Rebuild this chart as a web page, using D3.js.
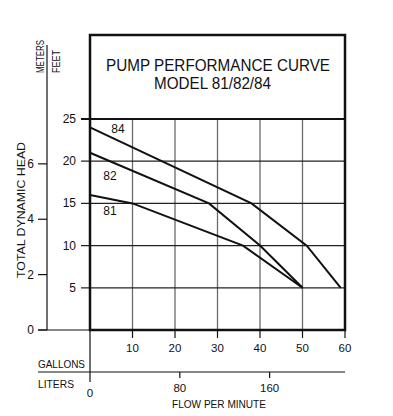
<!DOCTYPE html>
<html>
<head>
<meta charset="utf-8">
<script src="https://cdn.jsdelivr.net/npm/d3@7"></script>
<style>
  body { margin: 0; background: #fff; }
  text { font-family: "Liberation Sans", Arial, sans-serif; fill: #111; }
</style>
</head>
<body>
<div id="chart"></div>
<script>
// values
const models = ["84", "82", "81"];
const curve84 = [[0, 24], [38, 15], [51, 10], [59, 5]];
const curve82 = [[0, 21], [28, 15], [40, 10], [50, 5]];
const curve81 = [[0, 16], [10, 15], [36, 10], [50, 5]];
const labelPos = [[6.6, 23.3], [4.7, 17.8], [4.7, 13.6]];
const feetTicks = [5, 10, 15, 20, 25];
const meterTicks = [0, 2, 4, 6];
const gallonTicks = [10, 20, 30, 40, 50, 60];
const literTicks = [0, 80, 160];
const gridGallons = [10, 20, 30, 40, 50];
const gridFeet = [5, 10, 15, 20];

const width = 393, height = 416;
const margin = { left: 90, right: 48, top: 35, bottom: 86 };
const plotRight = width - margin.right;
const plotBottom = height - margin.bottom;

const x = d3.scaleLinear().domain([0, 60]).range([margin.left, plotRight]);
const yFt = d3.scaleLinear().domain([0, 25]).range([plotBottom, 119]);
const yM = d3.scaleLinear().domain([0, 25 * 0.3048]).range([plotBottom, 119]);
const xL = d3.scaleLinear().domain([0, 60 * 3.7854]).range([margin.left, plotRight]);

const svg = d3.select("#chart").append("svg")
    .attr("width", width)
    .attr("height", height);

// the reference uses a narrow face, so squeeze the longer labels
function label(sel, len) {
    return sel.attr("textLength", len).attr("lengthAdjust", "spacingAndGlyphs");
}

// grid
svg.append("g").selectAll("line").data(gridGallons).join("line")
    .attr("x1", d => x(d)).attr("x2", d => x(d))
    .attr("y1", yFt(25)).attr("y2", plotBottom)
    .attr("stroke", "#6a6a6a").attr("stroke-width", 1.3);

svg.append("g").selectAll("line").data(gridFeet).join("line")
    .attr("x1", x(0) - 9).attr("x2", plotRight)
    .attr("y1", d => yFt(d)).attr("y2", d => yFt(d))
    .attr("stroke", "#222").attr("stroke-width", 1.2);

// feet axis labels
svg.append("g").selectAll("text").data(feetTicks).join("text")
    .attr("x", x(0) - 14).attr("y", d => yFt(d) + 4)
    .attr("text-anchor", "end").attr("font-size", 12)
    .text(d => d);

// top line of the plot at 25 ft
svg.append("line")
    .attr("x1", x(0) - 9).attr("x2", plotRight)
    .attr("y1", yFt(25)).attr("y2", yFt(25))
    .attr("stroke", "#111").attr("stroke-width", 2);

// meters axis
const mx = 47;
svg.append("line")
    .attr("x1", mx).attr("x2", mx).attr("y1", 45).attr("y2", plotBottom)
    .attr("stroke", "#111").attr("stroke-width", 1.2);
svg.append("g").selectAll("line").data(meterTicks).join("line")
    .attr("x1", mx - 9).attr("x2", mx)
    .attr("y1", d => yM(d)).attr("y2", d => yM(d))
    .attr("stroke", "#111").attr("stroke-width", 1.2);
svg.append("g").selectAll("text").data(meterTicks).join("text")
    .attr("x", mx - 13).attr("y", d => yM(d) + 4)
    .attr("text-anchor", "end").attr("font-size", 12)
    .text(d => d);

svg.append("text")
    .attr("transform", "translate(44,73) rotate(-90)")
    .attr("font-size", 11).text("METERS").call(label, 33);
svg.append("text")
    .attr("transform", "translate(60,73) rotate(-90)")
    .attr("font-size", 11).text("FEET").call(label, 23);
svg.append("text")
    .attr("transform", "translate(25,210) rotate(-90)")
    .attr("text-anchor", "middle").attr("font-size", 11.5)
    .text("TOTAL DYNAMIC HEAD").call(label, 136);

// bottom line through the meters zero
svg.append("line")
    .attr("x1", mx - 9).attr("x2", x(0))
    .attr("y1", plotBottom).attr("y2", plotBottom)
    .attr("stroke", "#111").attr("stroke-width", 1.2);

// gallons axis
svg.append("g").selectAll("line").data(gallonTicks).join("line")
    .attr("x1", d => x(d)).attr("x2", d => x(d))
    .attr("y1", plotBottom).attr("y2", plotBottom + 8)
    .attr("stroke", "#111").attr("stroke-width", 1.2);
svg.append("g").selectAll("text").data(gallonTicks).join("text")
    .attr("x", d => x(d)).attr("y", plotBottom + 22)
    .attr("text-anchor", "middle").attr("font-size", 11.5)
    .text(d => d);
svg.append("text").attr("x", 38).attr("y", 368)
    .attr("font-size", 11.5).text("GALLONS").call(label, 47);

// liters axis
const ly = 372;
svg.append("line")
    .attr("x1", 38).attr("x2", plotRight)
    .attr("y1", ly).attr("y2", ly)
    .attr("stroke", "#111").attr("stroke-width", 1.2);
svg.append("line")
    .attr("x1", x(0)).attr("x2", x(0))
    .attr("y1", plotBottom).attr("y2", 382)
    .attr("stroke", "#111").attr("stroke-width", 1.2);
svg.append("g").selectAll("line").data(literTicks.slice(1)).join("line")
    .attr("x1", d => xL(d)).attr("x2", d => xL(d))
    .attr("y1", ly).attr("y2", ly + 6)
    .attr("stroke", "#111").attr("stroke-width", 1.2);
svg.append("g").selectAll("text").data(literTicks).join("text")
    .attr("x", d => xL(d)).attr("y", d => d === 0 ? 397 : 392)
    .attr("text-anchor", "middle").attr("font-size", 11.5)
    .text(d => d);
svg.append("text").attr("x", 38).attr("y", 388)
    .attr("font-size", 11.5).text("LITERS").call(label, 36);
svg.append("text").attr("x", 172).attr("y", 408)
    .attr("font-size", 11.5)
    .text("FLOW PER MINUTE").call(label, 94);

// frame (title box + plot)
svg.append("rect")
    .attr("x", x(0)).attr("y", margin.top)
    .attr("width", plotRight - x(0)).attr("height", plotBottom - margin.top)
    .attr("fill", "none").attr("stroke", "#111").attr("stroke-width", 2.5);

svg.append("text").attr("x", 106).attr("y", 71)
    .attr("font-size", 16)
    .text("PUMP PERFORMANCE CURVE").call(label, 224);
svg.append("text").attr("x", 154).attr("y", 89)
    .attr("font-size", 16)
    .text("MODEL 81/82/84").call(label, 117);

// curves
const line = d3.line().x(d => x(d[0])).y(d => yFt(d[1]));
svg.append("g").selectAll("path").data([curve84, curve82, curve81]).join("path")
    .attr("d", line)
    .attr("fill", "none").attr("stroke", "#111").attr("stroke-width", 2);

svg.append("g").selectAll("text").data(models).join("text")
    .attr("x", (d, i) => x(labelPos[i][0]))
    .attr("y", (d, i) => yFt(labelPos[i][1]))
    .attr("text-anchor", "middle").attr("font-size", 12)
    .text(d => d);
</script>
</body>
</html>
